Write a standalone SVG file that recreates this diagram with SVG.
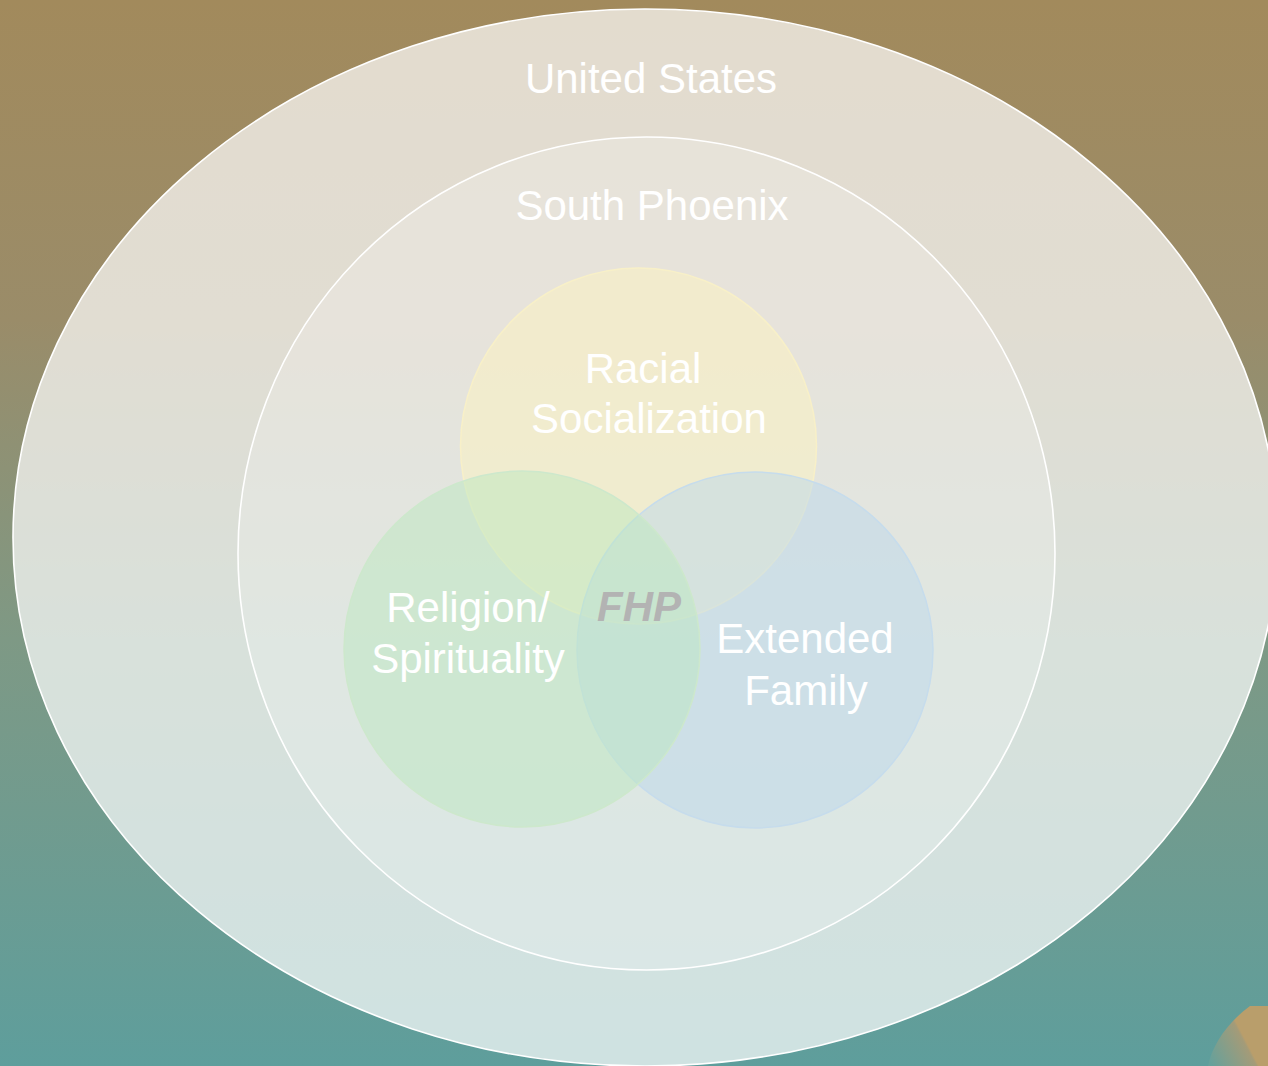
<svg xmlns="http://www.w3.org/2000/svg" width="1268" height="1066" viewBox="0 0 1268 1066">
<defs>
<linearGradient id="bg" x1="0" y1="0" x2="0" y2="1">
<stop offset="0" stop-color="#A28A5C"/>
<stop offset="0.3" stop-color="#9A8C69"/>
<stop offset="0.6" stop-color="#7E9985"/>
<stop offset="1" stop-color="#5E9E9C"/>
</linearGradient>
<linearGradient id="blob" x1="1212" y1="1066" x2="1262" y2="1040" gradientUnits="userSpaceOnUse">
<stop offset="0" stop-color="#66A19B"/>
<stop offset="0.7" stop-color="#A49B78"/>
<stop offset="0.74" stop-color="#B99E6B"/>
<stop offset="1" stop-color="#B99E6B"/>
</linearGradient>
<style>
.lbl{font-family:"Liberation Sans",Arial,sans-serif;font-size:42px;fill:#FFFFFF;text-anchor:middle}
.fhp{font-family:"Liberation Sans",Arial,sans-serif;font-size:42px;font-weight:bold;font-style:italic;fill:#B3B3B3;text-anchor:middle}
.ring{fill:#FFFFFF;stroke:#FFFFFF;stroke-width:1.6}
</style>
</defs>
<rect x="0" y="0" width="1268" height="1066" fill="url(#bg)"/>
<path d="M1250,1006 L1268,1006 L1268,1066 L1208,1066 C1212,1045 1228,1022 1250,1006 Z" fill="url(#blob)"/>
<g id="united-states">
<ellipse cx="645" cy="537.5" rx="632" ry="528.5" class="ring" fill-opacity="0.7"/>
<text x="651" y="93" class="lbl">United States</text>
</g>
<g id="south-phoenix">
<ellipse cx="646.5" cy="553.5" rx="408.5" ry="416.5" class="ring" fill-opacity="0.2"/>
<text x="652" y="220" class="lbl">South Phoenix</text>
</g>
<g id="racial-socialization">
<circle cx="638.5" cy="446" r="178" fill="#FEF3C0" fill-opacity="0.5" stroke="#F8F0C8" stroke-width="1.5"/>
</g>
<g id="extended-family">
<circle cx="755" cy="650" r="178" fill="#BCD8EC" fill-opacity="0.5" stroke="#C6DCEC" stroke-width="1.5"/>
</g>
<g id="religion-spirituality">
<circle cx="522" cy="649" r="178" fill="#BCE7C0" fill-opacity="0.5" stroke="#CDE8CC" stroke-width="1.5"/>
</g>
<g id="labels">
<text x="643" y="383" class="lbl">Racial</text>
<text x="649" y="433" class="lbl">Socialization</text>
<text x="468" y="622" class="lbl">Religion/</text>
<text x="468" y="673" class="lbl">Spirituality</text>
<text x="805" y="653" class="lbl">Extended</text>
<text x="806" y="705" class="lbl">Family</text>
</g>
<g id="fhp">
<text x="639" y="621" class="fhp">FHP</text>
</g>
<g id="connectors"></g>
</svg>
